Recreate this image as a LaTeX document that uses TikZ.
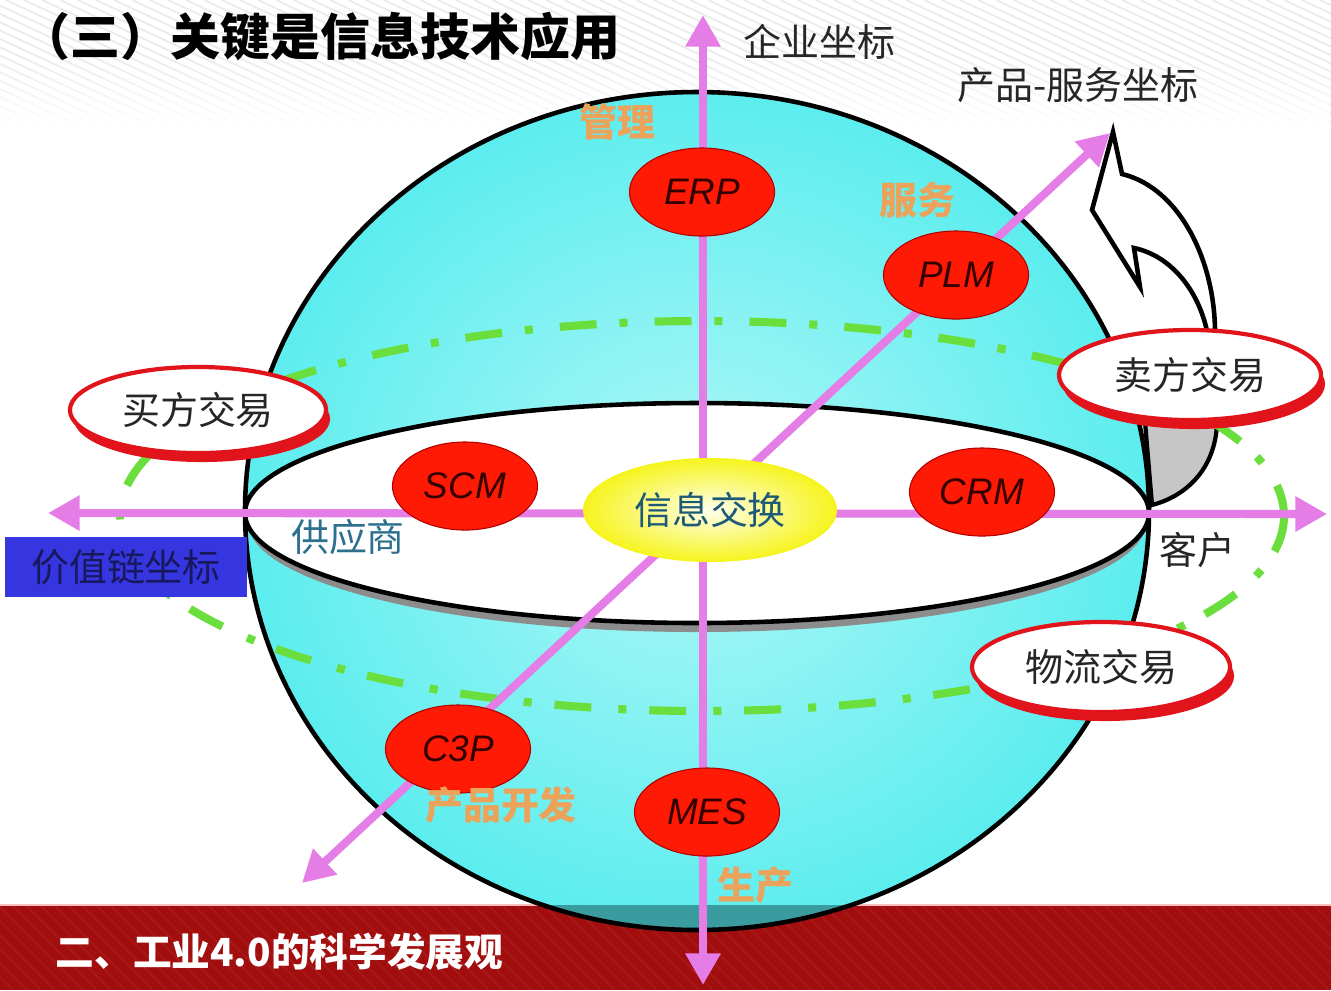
\documentclass[tikz,border=0pt]{standalone}
\usepackage{fontspec}
\setmainfont{Noto Sans CJK SC}
\newfontfamily\latinsans{Liberation Sans}
\usepackage{xcolor}
\definecolor{spherecyan}{HTML}{5CEDEE}
\definecolor{spherelight}{HTML}{B2F7F7}
\definecolor{spheredeep}{HTML}{3A9C9E}
\definecolor{rimgray}{HTML}{8C8C8C}
\definecolor{axisviolet}{HTML}{E57DE6}
\definecolor{orbitgreen}{HTML}{69DE3C}
\definecolor{nodered}{HTML}{FF1A05}
\definecolor{tradered}{HTML}{E0141A}
\definecolor{labelorange}{HTML}{EBA35C}
\definecolor{supplierblue}{HTML}{2D6F8E}
\definecolor{chainblue}{HTML}{3636E0}
\definecolor{chainnavy}{HTML}{18185E}
\definecolor{bandred}{HTML}{A20D0E}
\definecolor{exchangeyellow}{HTML}{F6F41C}
\definecolor{exchangeteal}{HTML}{1E5A78}
\usepackage{tikz}
\usetikzlibrary{arrows.meta, positioning, shapes, shadows, calc, fadings}

\begin{document}
\begin{tikzpicture}[x=0.01cm, y=-0.01cm,
  axis/.style={axisviolet, line width=2.3pt,
    {Triangle[length=9pt,width=9.5pt]}-{Triangle[length=9pt,width=9.5pt]}},
  app/.style={ellipse, fill=nodered, draw=red!70!black, line width=0.3pt,
    minimum width=1.45cm, minimum height=0.88cm, inner sep=0pt,
    font=\latinsans\itshape\fontsize{10.5}{12}\selectfont, text=black!80!red},
  trade/.style={ellipse, fill=white, draw=tradered, line width=1.2pt,
    minimum width=2.56cm, minimum height=0.86cm, inner sep=0pt,
    font=\fontsize{10.8}{13}\selectfont, text=black!85,
    drop shadow={shadow xshift=0.4mm, shadow yshift=-0.9mm, fill=tradered, opacity=1}},
  areatag/.style={text=labelorange, inner sep=0pt, font=\bfseries\fontsize{10.8}{13}\selectfont},
  caption/.style={text=black!85, inner sep=0pt, font=\fontsize{10.8}{13}\selectfont},
  stripe/.style={gray!16, line width=0.5pt}
]
  \useasboundingbox (0,0) rectangle (1331,990);
  \fill[white] (0,0) rectangle (1331,990);

  % --- Background: light hatching on top, red band below ---
  \begin{scope}
    \clip (0,0) rectangle (1331,125);
    \foreach \s in {-300,-282,...,1331}
      \draw[stripe] (\s,0) -- ++(270,125);
  \end{scope}
  \fill[white, path fading=north] (0,55) rectangle (1331,126);
  \fill[bandred] (0,905) rectangle (1331,990);
  \begin{scope}
    \clip (0,905) rectangle (1331,990);
    \foreach \s in {-100,-86,...,1400}
      \draw[white, opacity=0.05, line width=0.5pt] (\s,905) -- ++(85,85);
  \end{scope}
  \draw[red!25!white, line width=0.6pt] (0,905) -- (1331,905);

  % --- Sphere ---
  \shade[inner color=spherelight, outer color=spherecyan] (697,511) ellipse [x radius=452, y radius=419];
  \begin{scope}
    \clip (0,905) rectangle (1331,990);
    \fill[spheredeep] (697,511) ellipse [x radius=452, y radius=419];
  \end{scope}
  \draw[line width=1.3pt] (697,511) ellipse [x radius=452, y radius=419];

  % equator disk with its grey rim
  \fill[rimgray] (697,522) ellipse [x radius=449, y radius=110];
  \filldraw[fill=white, line width=1.3pt] (697,513) ellipse [x radius=452, y radius=110];

  % --- Turning arrow on the right ---
  \filldraw[fill=gray!45, line width=1.2pt] (1145,422) -- (1217,422)
    .. controls (1216,465) and (1190,495) .. (1152,505) -- cycle;
  \filldraw[fill=white, line width=1.3pt, line join=miter] (1113,132) -- (1122,174)
    .. controls (1180,188) and (1216,262) .. (1215,336) -- (1208,336)
    .. controls (1200,292) and (1172,256) .. (1134,248) -- (1140,287) -- (1092,210) -- cycle;

  % --- Orbit ---
  \draw[orbitgreen, line width=2.3pt, dash pattern=on 10.5pt off 6.5pt on 2.3pt off 7.7pt]
    (702,516) ellipse [x radius=582, y radius=195];

  % --- Axes ---
  \coordinate (vtop) at (703,15);
  \coordinate (vbot) at (703,985);
  \coordinate (hleft) at (48,513);
  \coordinate (hright) at (1327,514);
  \coordinate (dlow) at (302,883);
  \coordinate (dhigh) at (1110,133);
  \draw[axis] (hleft) -- (hright);
  \draw[axis] (dlow) -- (dhigh);
  \draw[axis] (vbot) -- (vtop);

  % --- Systems on the axes ---
  \node[app] (erp) at (702,192) {ERP};
  \node[app] (plm) at (956,275) {PLM};
  \node[app] (scm) at (465,486) {SCM};
  \node[app] (crm) at (982,492) {CRM};
  \node[app] (cthreep) at (458,749) {C3P};
  \node[app] (mes) at (707,812) {MES};

  \node[ellipse, shade, inner color=yellow!8, outer color=exchangeyellow,
    minimum width=2.54cm, minimum height=1.04cm, inner sep=0pt, text=exchangeteal,
    font=\fontsize{10.8}{13}\selectfont] (exchange) at (710,510) {信息交换};

  % --- Transactions ---
  \node[trade] (buyer) at (198,410) {买方交易};
  \node[trade, minimum width=2.62cm, minimum height=0.9cm] (seller) at (1190,375) {卖方交易};
  \node[trade, minimum width=2.58cm, minimum height=0.9cm] (logistics) at (1101,667) {物流交易};

  % --- Labels ---
  \node[anchor=west, inner sep=0pt, font=\bfseries\fontsize{14.2}{16}\selectfont] (title) at (20,37) {（三）关键是信息技术应用};
  \node[caption, anchor=west] (enterprise) at (743,42) {企业坐标};
  \node[caption, anchor=west] (prodservice) at (957,85) {产品-服务坐标};
  \node[areatag] (mgmt) at (617,122) {管理};
  \node[areatag] (service) at (917,200) {服务};
  \node[areatag] (proddev) at (501,805) {产品开发};
  \node[areatag] (production) at (755,885) {生产};
  \node[caption, text=supplierblue] (supplier) at (348,537) {供应商};
  \node[caption] (customer) at (1197,550) {客户};
  \node[fill=chainblue, minimum width=2.42cm, minimum height=0.6cm, inner sep=0pt,
    text=chainnavy, font=\fontsize{10.8}{13}\selectfont] (chain) at (126,567) {价值链坐标};
  \node[anchor=west, inner sep=0pt, text=white, font=\bfseries\fontsize{11}{13}\selectfont] (bandtitle) at (55,952) {二、工业4.0的科学发展观};
\end{tikzpicture}
\end{document}
